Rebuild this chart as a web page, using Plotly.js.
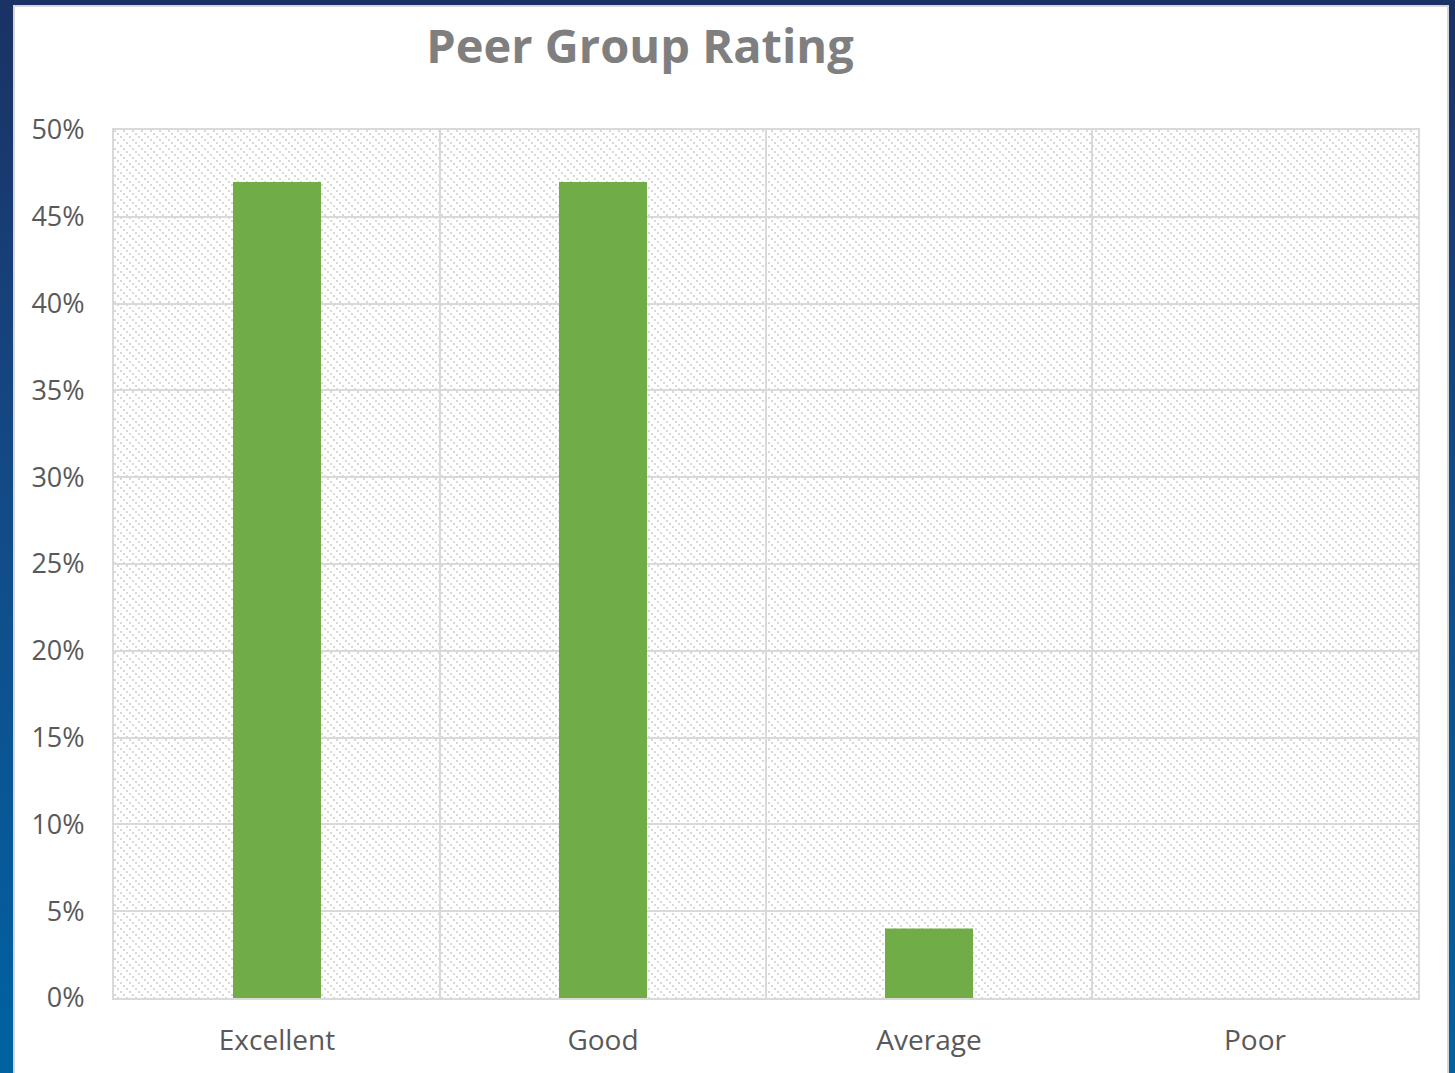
<!DOCTYPE html>
<html>
<head>
<meta charset="utf-8">
<script src="https://cdn.plot.ly/plotly-3.0.1.min.js"></script>
<style>
  html, body { margin: 0; padding: 0; width: 1455px; height: 1073px; overflow: hidden;
    background: linear-gradient(to bottom, #1a3264 0%, #134a86 45%, #0062a2 100%); }
  #frame { position: absolute; left: 13px; top: 5px; width: 1436px; height: 1090px;
    box-sizing: border-box; border: 2px solid #d6d6d6; background: #ffffff; }
  #chart { width: 1432px; height: 1066px; }
</style>
</head>
<body>
<div id="frame"><div id="chart"></div></div>
<script>
const categories = ["Excellent", "Good", "Average", "Poor"];
const shares = [0.47, 0.47, 0.04, 0.0];
const chartTitle = "Peer Group Rating";

const svg = "<svg xmlns='http://www.w3.org/2000/svg' width='1304' height='868' shape-rendering='crispEdges'>" +
  "<defs><pattern id='p' width='9' height='9' patternUnits='userSpaceOnUse'>" +
  "<rect x='0' y='0' width='2' height='2' fill='#d8d8d8'/>" +
  "<rect x='3' y='3' width='2' height='2' fill='#d8d8d8'/>" +
  "<rect x='6' y='6' width='2' height='2' fill='#d8d8d8'/>" +
  "</pattern></defs><rect width='1304' height='868' fill='url(#p)'/></svg>";
const bgSrc = "data:image/svg+xml;charset=utf-8," + encodeURIComponent(svg);

const fontFam = "'Open Sans', 'Noto Sans', sans-serif";

Plotly.newPlot("chart", [{
  type: "bar",
  x: categories,
  y: shares,
  width: 0.27,
  marker: { color: "#70ad47", line: { width: 0 } },
  hoverinfo: "x+y"
}], {
  width: 1432, height: 1066,
  margin: { l: 99, r: 29, t: 123, b: 75 },
  paper_bgcolor: "#ffffff",
  plot_bgcolor: "#ffffff",
  showlegend: false,
  title: {
    text: "<b>" + chartTitle + "</b>",
    font: { family: fontFam, size: 47, color: "#7f7f7f" },
    xref: "container", yref: "container",
    x: 625 / 1432, xanchor: "center",
    y: 1 - 40 / 1066, yanchor: "middle"
  },
  images: [{
    source: bgSrc, xref: "paper", yref: "paper",
    x: 0, y: 1, sizex: 1, sizey: 1, sizing: "stretch",
    xanchor: "left", yanchor: "top", layer: "below"
  }],
  xaxis: {
    type: "category",
    showgrid: true, gridcolor: "#d9d9d9", gridwidth: 2,
    tickson: "boundaries", ticks: "", ticklen: 0,
    showline: true, linecolor: "#d9d9d9", linewidth: 2, mirror: true,
    tickfont: { family: fontFam, size: 28, color: "#595959" },
    ticklabelstandoff: 16,
    fixedrange: true
  },
  yaxis: {
    range: [0, 0.5], dtick: 0.05, tickformat: ".0%",
    showgrid: true, gridcolor: "#d9d9d9", gridwidth: 2,
    zeroline: false,
    showline: true, linecolor: "#d9d9d9", linewidth: 2, mirror: true,
    ticks: "",
    tickfont: { family: fontFam, size: 27, color: "#595959" },
    ticklabelstandoff: 22,
    fixedrange: true
  },
  bargap: 0.73
}, { displayModeBar: false, staticPlot: true });
</script>
</body>
</html>
